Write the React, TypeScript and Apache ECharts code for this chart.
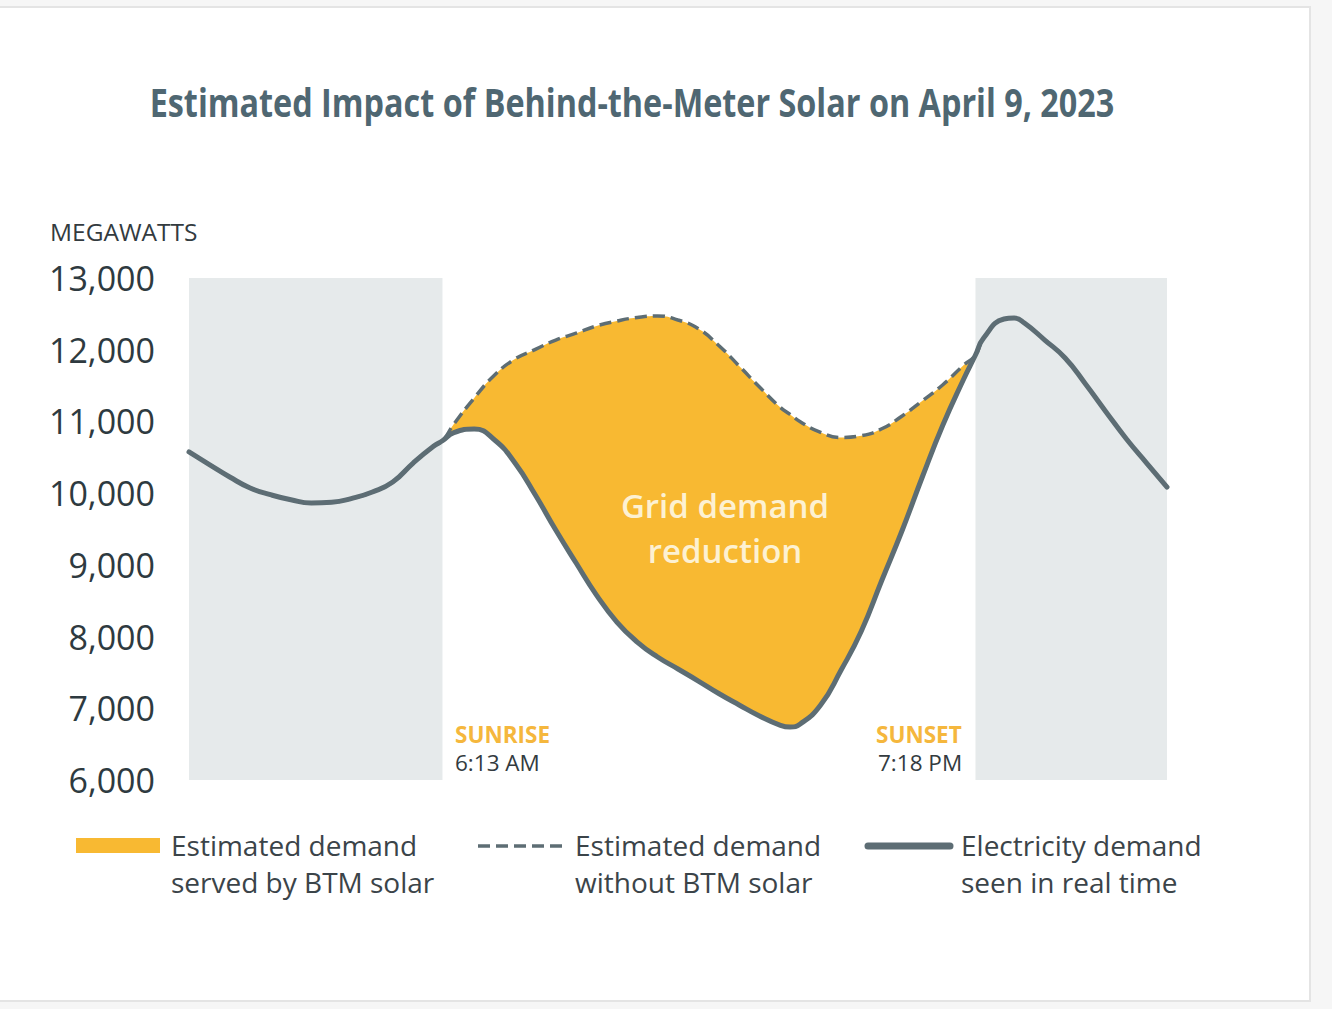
import React, { useEffect, useRef } from "react";
import * as echarts from "echarts";

// Hours of the day (April 9, 2023) at which values were read
const hours = [
  0, 0.5, 1, 1.5, 2, 2.5, 3, 3.5, 4, 4.5, 5, 5.5, 6, 6.22, 6.5, 7, 7.5, 8, 8.5, 9,
  9.5, 10, 10.5, 11, 11.5, 12, 12.5, 13, 13.5, 14, 14.5, 14.75, 15, 15.5, 16, 16.5, 17,
  17.5, 18, 18.5, 19, 19.3, 19.5, 20, 20.25, 20.5, 21, 21.5, 22, 22.5, 23, 23.5, 24,
];

// Electricity demand seen in real time (MW)
const realtime = [
  10574, 10398, 10225, 10072, 9978, 9907, 9862, 9872, 9927, 10016, 10155, 10420,
  10653, 10731, 10843, 10894, 10741, 10420, 9974, 9486, 9026, 8579, 8203, 7924,
  7715, 7548, 7380, 7206, 7046, 6892, 6766, 6739, 6781, 7045, 7530, 8077, 8782, 9479,
  10232, 10950, 11578, 11926, 12163, 12428, 12442, 12372, 12135, 11884, 11522, 11136,
  10759, 10420, 10085,
];

// Estimated demand without BTM solar (MW), daylight only
const withoutBtm = [
  null, null, null, null, null, null, null, null, null, null, null, null, null,
  10731, 10964, 11327, 11647, 11870, 12004, 12135, 12230, 12331, 12400, 12449,
  12470, 12414, 12293, 12059, 11773, 11480, 11201, 11098, 10995, 10847, 10777, 10802,
  10898, 11076, 11289, 11512, 11780, 11926,
  null, null, null, null, null, null, null, null, null, null, null,
];

const yTicks = [6000, 7000, 8000, 9000, 10000, 11000, 12000, 13000];
const sunriseHour = 6.22; // 6:13 AM
const sunsetHour = 19.3; // 7:18 PM

const BASE = new Date(2023, 3, 9, 0, 0, 0).getTime();
const ts = (h: number) => BASE + h * 3600000;

const LINE = "#5d6d74";
const ORANGE = "#F8B932";
const GRAYBAND = "#E6EAEB";
const TITLE = "Estimated Impact of Behind-the-Meter Solar on April 9, 2023";
const TITLE_FONT = 'bold 40px "Open Sans"';

function measure(text: string, font: string): number {
  const c = document.createElement("canvas").getContext("2d");
  if (!c) return text.length * 20;
  c.font = font;
  return c.measureText(text).width;
}

export default function App() {
  const ref = useRef<HTMLDivElement>(null);

  useEffect(() => {
    document.body.style.margin = "0";
    if (!ref.current) return;
    const chart = echarts.init(ref.current, null, { renderer: "svg" });

    const dashedFull = hours.map((h, i) => [ts(h), withoutBtm[i] ?? realtime[i]]);
    const solidData = hours.map((h, i) => [ts(h), realtime[i]]);
    const diffData = hours.map((h, i) => [ts(h), (withoutBtm[i] ?? realtime[i]) - realtime[i]]);

    const legendFont = '500 28px "Open Sans"';
    const legendColor = "#3b4449";
    const titleScale = 965 / measure(TITLE, TITLE_FONT);
    const SMOOTH = 0.5;
    const noteBold = 'bold 22.5px "Open Sans"';
    const noteReg = '22.5px "Open Sans"';

    chart.setOption({
      animation: false,
      grid: { left: 189, top: 278, width: 978, height: 502, containLabel: false },
      xAxis: {
        type: "time",
        min: ts(0),
        max: ts(24),
        show: false,
      },
      yAxis: {
        type: "value",
        min: yTicks[0],
        max: yTicks[yTicks.length - 1],
        interval: 1000,
        splitLine: { show: false },
        axisLine: { show: false },
        axisTick: { show: false },
        axisLabel: {
          margin: 34,
          fontSize: 34,
          fontWeight: 500,
          fontFamily: '"Open Sans"',
          color: "#2e3a40",
          formatter: (v: number) => v.toLocaleString("en-US"),
        },
      },
      series: [
        {
          name: "Electricity demand seen in real time",
          type: "line",
          stack: "btm",
          data: solidData,
          smooth: SMOOTH,
          symbol: "none",
          z: 6,
          lineStyle: { color: LINE, width: 5, cap: "round", join: "round" },
        },
        {
          name: "Estimated demand served by BTM solar",
          type: "line",
          stack: "btm",
          data: diffData,
          smooth: SMOOTH,
          symbol: "none",
          z: 3,
          lineStyle: { width: 0, opacity: 0 },
          areaStyle: { color: ORANGE, opacity: 1 },
        },
        {
          name: "Estimated demand without BTM solar",
          type: "line",
          data: dashedFull,
          smooth: SMOOTH,
          symbol: "none",
          z: 5,
          lineStyle: { color: LINE, width: 3.5, type: [12, 6] },
        },
        {
          name: "night",
          type: "line",
          data: [],
          z: 1,
          silent: true,
          markArea: {
            silent: true,
            itemStyle: { color: GRAYBAND, opacity: 1 },
            data: [
              [{ xAxis: ts(0) }, { xAxis: ts(sunriseHour) }],
              [{ xAxis: ts(sunsetHour) }, { xAxis: ts(24) }],
            ],
          },
        },
      ],
      graphic: [
        {
          type: "text",
          z: 100,
          x: 632,
          y: 102,
          scaleX: titleScale,
          style: {
            x: 0,
            y: 0,
            text: TITLE,
            textAlign: "center",
            textVerticalAlign: "middle",
            font: TITLE_FONT,
            fill: "#4f6772",
          },
        },
        {
          type: "text",
          z: 100,
          style: {
            x: 50,
            y: 231,
            text: "MEGAWATTS",
            textVerticalAlign: "middle",
            font: '24.5px "Open Sans"',
            fill: "#333b3f",
          },
        },
        { type: "text", z: 100, style: { x: 455, y: 734.5, text: "SUNRISE", textVerticalAlign: "middle", font: noteBold, fill: "#F5B73D" } },
        { type: "text", z: 100, style: { x: 455, y: 762.5, text: "6:13 AM", textVerticalAlign: "middle", font: noteReg, fill: "#333b3f" } },
        { type: "text", z: 100, style: { x: 876, y: 734.5, text: "SUNSET", textVerticalAlign: "middle", font: noteBold, fill: "#F5B73D" } },
        { type: "text", z: 100, style: { x: 878, y: 762.5, text: "7:18 PM", textVerticalAlign: "middle", font: noteReg, fill: "#333b3f" } },
        {
          type: "text",
          z: 100,
          style: {
            x: 725,
            y: 528,
            text: "Grid demand\nreduction",
            textAlign: "center",
            textVerticalAlign: "middle",
            font: '600 33px "Open Sans"',
            lineHeight: 45,
            fill: "#FDF1D2",
          },
        },
        // legend
        { type: "rect", z: 100, shape: { x: 76, y: 838, width: 84, height: 15 }, style: { fill: ORANGE } },
        {
          type: "text",
          z: 100,
          style: { x: 171, y: 863, text: "Estimated demand\nserved by BTM solar", textVerticalAlign: "middle", font: legendFont, lineHeight: 37, fill: legendColor },
        },
        {
          type: "line",
          z: 100,
          shape: { x1: 478, y1: 846, x2: 566, y2: 846 },
          style: { stroke: LINE, lineWidth: 3.5, lineDash: [12, 6] },
        },
        {
          type: "text",
          z: 100,
          style: { x: 575, y: 863, text: "Estimated demand\nwithout BTM solar", textVerticalAlign: "middle", font: legendFont, lineHeight: 37, fill: legendColor },
        },
        {
          type: "line",
          z: 100,
          shape: { x1: 868, y1: 846, x2: 950, y2: 846 },
          style: { stroke: LINE, lineWidth: 7, lineCap: "round" },
        },
        {
          type: "text",
          z: 100,
          style: { x: 961, y: 863, text: "Electricity demand\nseen in real time", textVerticalAlign: "middle", font: legendFont, lineHeight: 37, fill: legendColor },
        },
      ],
    });

    return () => chart.dispose();
  }, []);

  return (
    <div style={{ position: "absolute", left: 0, top: 0, width: 1332, height: 1009, background: "#f6f6f6", overflow: "hidden" }}>
      <div
        style={{
          position: "absolute",
          left: -4,
          top: 6,
          width: 1315,
          height: 996,
          background: "#ffffff",
          border: "2px solid #e4e4e4",
          boxSizing: "border-box",
        }}
      />
      <div ref={ref} style={{ position: "absolute", left: 0, top: 0, width: 1332, height: 1009 }} />
    </div>
  );
}
